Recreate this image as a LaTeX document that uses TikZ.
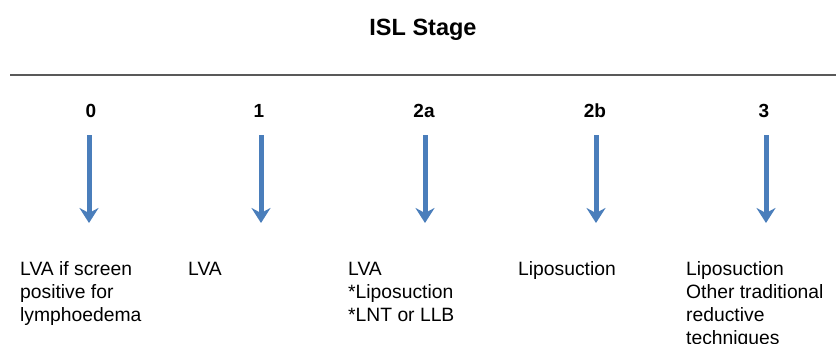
\documentclass[tikz,border=0pt]{standalone}
\usepackage{fontspec}
\setmainfont{Liberation Sans}
\usetikzlibrary{arrows.meta}
\definecolor{arrowblue}{HTML}{4A7EBB}
\begin{document}
\begin{tikzpicture}[x=1pt,y=-1pt,
  title/.style={font=\fontsize{23.5}{28}\selectfont\bfseries, inner sep=0pt, anchor=base},
  stagenum/.style={font=\fontsize{19}{23}\selectfont\bfseries, inner sep=0pt, anchor=base},
  body/.style={font=\fontsize{19.3}{23}\selectfont, inner sep=0pt, anchor=base west},
  flow/.style={draw=arrowblue, line width=5pt, -{Stealth[length=15pt,width=19pt,inset=5pt]}}
]
\useasboundingbox (0,0) rectangle (836,343);
\node[title] (t) at (423,35) {ISL Stage};
\coordinate (l1) at (10,75);
\coordinate (l2) at (836,75);
\draw[black!65, line width=1.3pt] (l1) -- (l2);

\node[stagenum] (n0) at (91,117) {0};
\node[stagenum] (n1) at (259,117) {1};
\node[stagenum] (n2a) at (424,117) {2a};
\node[stagenum] (n2b) at (595,117) {2b};
\node[stagenum] (n3) at (764,117) {3};

\foreach \n/\x in {a0/89,a1/261,a2/425,a3/596,a4/766}{
  \coordinate (\n s) at (\x,135);
  \coordinate (\n e) at (\x,223);
  \draw[flow] (\n s) -- (\n e);
}

\node[body] (c0) at (20,275) {\begin{tabular}[t]{@{}l@{}}LVA if screen\\positive for\\lymphoedema\end{tabular}};
\node[body] (c1) at (188,275) {\begin{tabular}[t]{@{}l@{}}LVA\end{tabular}};
\node[body] (c2) at (348,275) {\begin{tabular}[t]{@{}l@{}}LVA\\{*}Liposuction\\{*}LNT or LLB\end{tabular}};
\node[body] (c3) at (518,275) {\begin{tabular}[t]{@{}l@{}}Liposuction\end{tabular}};
\node[body] (c4) at (686,275) {\begin{tabular}[t]{@{}l@{}}Liposuction\\Other traditional\\reductive\\techniques\end{tabular}};
\end{tikzpicture}
\end{document}
